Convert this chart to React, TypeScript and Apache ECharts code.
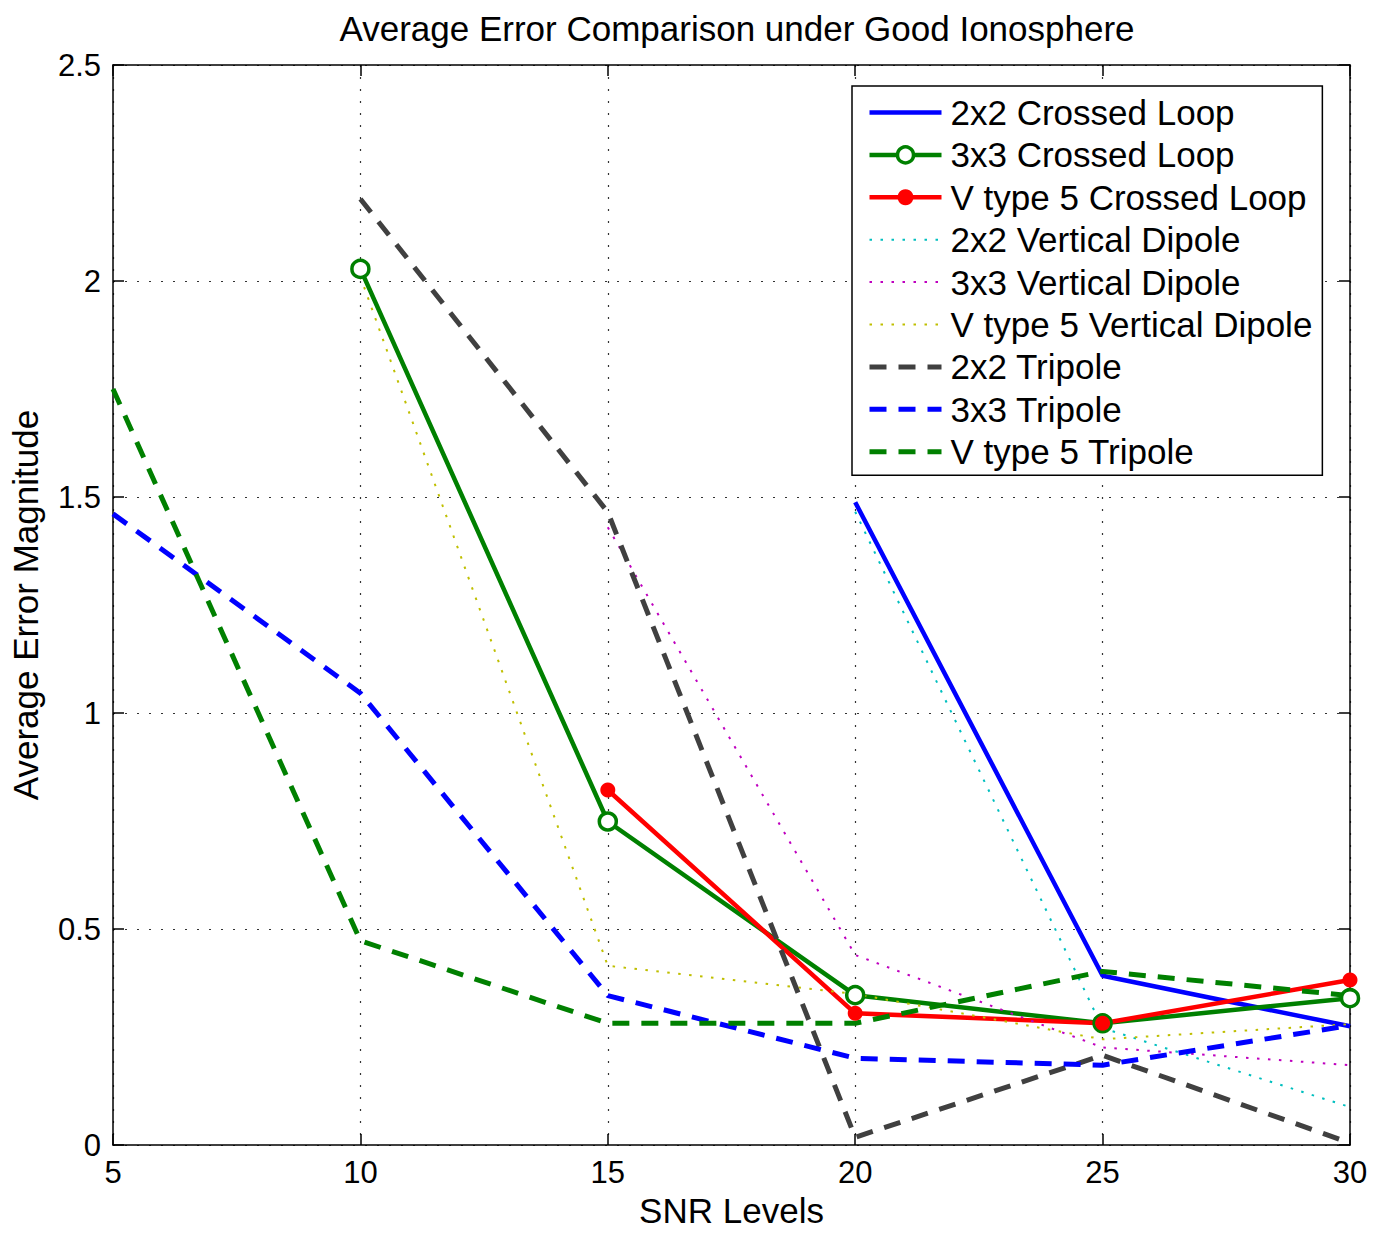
import React, { useEffect, useRef } from "react";
import * as echarts from "echarts";

const snrLevels = [5, 10, 15, 20, 25, 30];
const yTicks = [0, 0.5, 1, 1.5, 2, 2.5];

const loop2x2 = [null, null, null, 1.488, 0.392, 0.275];
const loop3x3 = [null, 2.028, 0.749, 0.347, 0.282, 0.34];
const loopV5 = [null, null, 0.822, 0.305, 0.282, 0.382];
const dipole2x2 = [null, null, null, 1.466, 0.271, 0.088];
const dipole3x3 = [null, null, 1.43, 0.44, 0.226, 0.185];
const dipoleV5 = [null, 2.01, 0.415, 0.35, 0.245, 0.28];
const tripole2x2 = [null, 2.19, 1.465, 0.018, 0.208, 0.005];
const tripole3x3 = [1.461, 1.046, 0.346, 0.201, 0.185, 0.277];
const tripoleV5 = [1.75, 0.473, 0.282, 0.282, 0.402, 0.346];

const FONT = "'Liberation Sans', Arial, Helvetica, sans-serif";

function pairs(vals: (number | null)[]) {
  const out: number[][] = [];
  vals.forEach((v, i) => {
    if (v !== null) out.push([snrLevels[i], v]);
  });
  return out;
}

type Def = {
  name: string;
  data: (number | null)[];
  color: string;
  width: number;
  type: any;
  symbol?: string;
  symbolSize?: number;
  fill?: string;
};

const defs: Def[] = [
  { name: "2x2 Crossed Loop", data: loop2x2, color: "#0000ff", width: 4.5, type: "solid" },
  { name: "3x3 Crossed Loop", data: loop3x3, color: "#008000", width: 4.5, type: "solid", symbol: "circle", symbolSize: 17, fill: "#ffffff" },
  { name: "V type 5 Crossed Loop", data: loopV5, color: "#ff0000", width: 4.5, type: "solid", symbol: "circle", symbolSize: 15, fill: "#ff0000" },
  { name: "2x2 Vertical Dipole", data: dipole2x2, color: "#00bfbf", width: 2, type: [2.5, 8.5] },
  { name: "3x3 Vertical Dipole", data: dipole3x3, color: "#bf00bf", width: 2, type: [2.5, 8.5] },
  { name: "V type 5 Vertical Dipole", data: dipoleV5, color: "#bfbf00", width: 2, type: [2.5, 8.5] },
  { name: "2x2 Tripole", data: tripole2x2, color: "#404040", width: 5, type: [17, 12] },
  { name: "3x3 Tripole", data: tripole3x3, color: "#0000ff", width: 5, type: [17, 12] },
  { name: "V type 5 Tripole", data: tripoleV5, color: "#008000", width: 5, type: [17, 12] },
];

export default function App() {
  const ref = useRef<HTMLDivElement>(null);
  useEffect(() => {
    if (!ref.current) return;
    const chart = echarts.init(ref.current, null, { renderer: "svg" });
    const axisLine = { show: true, onZero: false, lineStyle: { color: "#000", width: 1.5 } };
    const tick = { show: true, inside: true, length: 11, lineStyle: { color: "#000", width: 1.5 } };
    const option: any = {
      animation: false,
      backgroundColor: "#ffffff",
      title: {
        text: "Average Error Comparison under Good Ionosphere",
        left: 732,
        textAlign: "center",
        top: 6,
        textStyle: { fontFamily: FONT, fontSize: 35, fontWeight: "normal", color: "#000" },
      },
      grid: { left: 113, top: 65, width: 1237, height: 1083, containLabel: false },
      legend: {
        orient: "vertical",
        left: 852,
        top: 86,
        padding: [9, 10, 6, 15],
        itemWidth: 72,
        itemHeight: 20,
        itemGap: 7.4,
        backgroundColor: "#ffffff",
        borderColor: "#000",
        borderWidth: 1.5,
        textStyle: { fontFamily: FONT, fontSize: 35, color: "#000", lineHeight: 34, padding: [0, 0, 0, 4] },
        data: defs.map((d) => {
          const item: any = {
            name: d.name,
            lineStyle: { color: d.color, width: d.width, type: d.type },
          };
          if (d.symbol) {
            item.itemStyle = {
              color: d.fill,
              borderColor: d.color,
              borderWidth: d.fill === "#ffffff" ? 3.5 : 0,
            };
          } else {
            item.itemStyle = { opacity: 0 };
          }
          return item;
        }),
      },
      xAxis: [
        {
          type: "value",
          min: 5,
          max: 30,
          interval: 5,
          position: "bottom",
          name: "SNR Levels",
          nameLocation: "middle",
          nameGap: 47,
          nameTextStyle: { fontFamily: FONT, fontSize: 35, color: "#000" },
          axisLine,
          axisTick: tick,
          axisLabel: { margin: 12, fontFamily: FONT, fontSize: 31, color: "#000" },
          splitLine: { show: true, lineStyle: { color: "#333", width: 1.2, type: [2, 10] } },
        },
        {
          type: "value",
          min: 5,
          max: 30,
          interval: 5,
          position: "top",
          axisLine,
          axisTick: tick,
          axisLabel: { show: false },
          splitLine: { show: false },
        },
      ],
      yAxis: [
        {
          type: "value",
          min: 0,
          max: 2.5,
          interval: 0.5,
          position: "left",
          name: "Average Error Magnitude",
          nameLocation: "middle",
          nameGap: 70,
          nameTextStyle: { fontFamily: FONT, fontSize: 35, color: "#000" },
          axisLine,
          axisTick: tick,
          axisLabel: {
            margin: 12,
            fontFamily: FONT,
            fontSize: 31,
            color: "#000",
            formatter: (v: number) => (yTicks.includes(v) ? String(v) : ""),
          },
          splitLine: { show: true, lineStyle: { color: "#333", width: 1.2, type: [2, 10] } },
        },
        {
          type: "value",
          min: 0,
          max: 2.5,
          interval: 0.5,
          position: "right",
          axisLine,
          axisTick: tick,
          axisLabel: { show: false },
          splitLine: { show: false },
        },
      ],
      series: defs.map((d) => ({
        name: d.name,
        type: "line",
        xAxisIndex: 0,
        yAxisIndex: 0,
        data: pairs(d.data),
        symbol: d.symbol || "none",
        symbolSize: d.symbolSize || 0,
        showSymbol: !!d.symbol,
        lineStyle: { color: d.color, width: d.width, type: d.type },
        itemStyle: {
          color: d.fill || d.color,
          borderColor: d.color,
          borderWidth: d.symbol ? (d.fill === "#ffffff" ? 3.5 : 0) : 0,
        },
        emphasis: { disabled: true },
        clip: true,
      })),
    };
    chart.setOption(option);
    return () => chart.dispose();
  }, []);
  return (
    <div
      ref={ref}
      style={{ position: "absolute", left: 0, top: 0, width: 1390, height: 1233, background: "#fff" }}
    />
  );
}
